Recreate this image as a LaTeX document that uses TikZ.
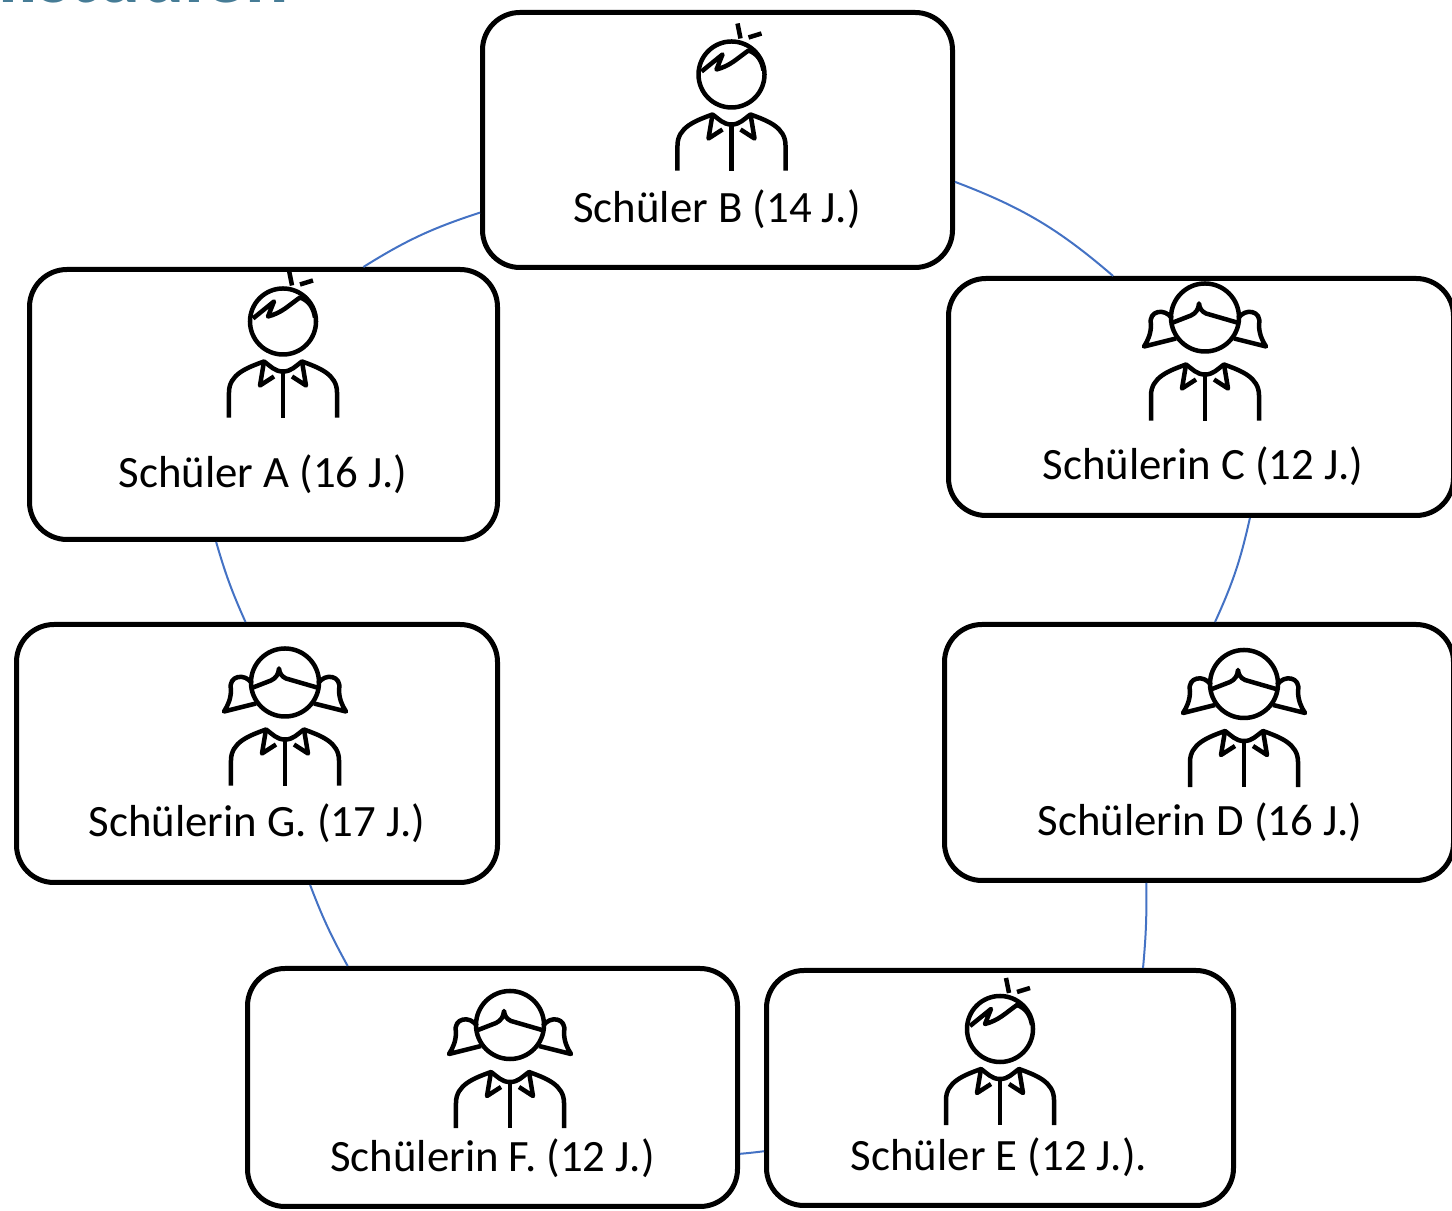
\documentclass[tikz,border=0pt]{standalone}
\usepackage{fontspec}
\setmainfont{Carlito}
\definecolor{linkblue}{RGB}{68,114,196}
\definecolor{titleteal}{RGB}{70,124,150}
\tikzset{
    box/.style={draw, line width=0.1cm, rounded corners=0.75cm, fill=white, inner sep=0pt},
    link/.style={draw=linkblue, line width=0.04cm},
    lbl/.style={anchor=base, inner sep=0pt, font=\fontsize{25.5}{30}\selectfont},
    icon/.style={x=0.02cm, y=0.02cm, line width=0.09cm, line join=round},
    torso/.pic={
        \draw (-54,-56) -- (-54,-31) to[out=90,in=200] (-19,0) to[out=-35,in=180] (0,-10) to[out=0,in=215] (19,0) to[out=-20,in=90] (54,-31) -- (54,-56);
        \draw (-19,0) -- (-23,-24) -- (-9,-15);
        \draw (19,0) -- (23,-24) -- (9,-15);
        \draw (0,-10) -- (0,-56);
    },
    boy/.pic={
        \begin{scope}[icon]
        \draw (0,0) circle (33);
        \draw (-30,3) -- (-9,20) -- (-15,5) to[out=15,in=215] (17,24) to[out=-20,in=100] (32,4);
        \draw (9,36) -- (6,51);
        \draw (17,37) -- (30,41);
        \pic at (0,-40) {torso};
        \end{scope}
    },
    girl/.pic={
        \begin{scope}[icon]
        \draw (0,0) circle (34);
        \draw (-32,-5) -- (-14,2) to[out=25,in=-95] (-6,14) to[out=-85,in=155] (1,4) -- (32,-5);
        \draw (-33,-1) .. controls (-40,10) and (-57,7) .. (-54,-7) .. controls (-54,-16) and (-57,-23) .. (-61,-29) -- (-29,-21);
        \draw (33,-1) .. controls (40,10) and (57,7) .. (54,-7) .. controls (54,-16) and (57,-23) .. (61,-29) -- (29,-21);
        \pic at (0,-47) {torso};
        \end{scope}
    }
}
\begin{document}
\begin{tikzpicture}
    \useasboundingbox (0, 0) rectangle (29.04, 24.22);
    \node[anchor=base east, inner sep=0pt, text=titleteal, font=\bfseries\fontsize{46}{50}\selectfont] (title) at(5.77, 24.16){Fallstudien};

    \node[box, minimum width=9.4cm, minimum height=5.1cm] (B) at(14.35, 21.42){};
    \node[box, minimum width=9.36cm, minimum height=5.4cm] (A) at(5.27, 16.13){};
    \node[box, minimum width=10.1cm, minimum height=4.74cm] (C) at(24.02, 16.28){};
    \node[box, minimum width=9.62cm, minimum height=5.16cm] (G) at(5.14, 9.15){};
    \node[box, minimum width=10.18cm, minimum height=5.12cm] (D) at(23.98, 9.17){};
    \node[box, minimum width=9.8cm, minimum height=4.76cm] (F) at(9.85, 2.47){};
    \node[box, minimum width=9.34cm, minimum height=4.7cm] (E) at(20.0, 2.46){};

    \pic at(14.63, 22.73){boy};
    \pic at(5.66, 17.79){boy};
    \pic at(24.1, 17.87){girl};
    \pic at(5.7, 10.57){girl};
    \pic at(24.88, 10.54){girl};
    \pic at(10.2, 3.72){girl};
    \pic at(20.0, 3.64){boy};

    \node[lbl] (B-lbl) at(14.34, 19.76){Schüler B (14 J.)};
    \node[lbl] (A-lbl) at(5.26, 14.46){Schüler A (16 J.)};
    \node[lbl] (C-lbl) at(24.06, 14.62){Schülerin C (12 J.)};
    \node[lbl] (G-lbl) at(5.14, 7.48){Schülerin G. (17 J.)};
    \node[lbl] (D-lbl) at(24.0, 7.5){Schülerin D (16 J.)};
    \node[lbl] (F-lbl) at(9.85, 0.78){Schülerin F. (12 J.)};
    \node[lbl] (E-lbl) at(19.98, 0.8){Schüler E (12 J.).};

    \draw[link] (A.54.4) to[bend left=7] (B.197.4);
    \draw[link] (B.-10.2) to[bend left=10] (C.126.3);
    \draw[link] (C.-68.4) to[bend left=6] (D.83);
    \draw[link] (D.248.7) to[bend left=3] (E.40);
    \draw[link] (E.195.6) to[bend left=1] (F.-15.5);
    \draw[link] (F.140.1) to[bend left=4] (G.-68.8);
    \draw[link] (G.95.2) to[bend left=4] (A.251.7);
\end{tikzpicture}
\end{document}
